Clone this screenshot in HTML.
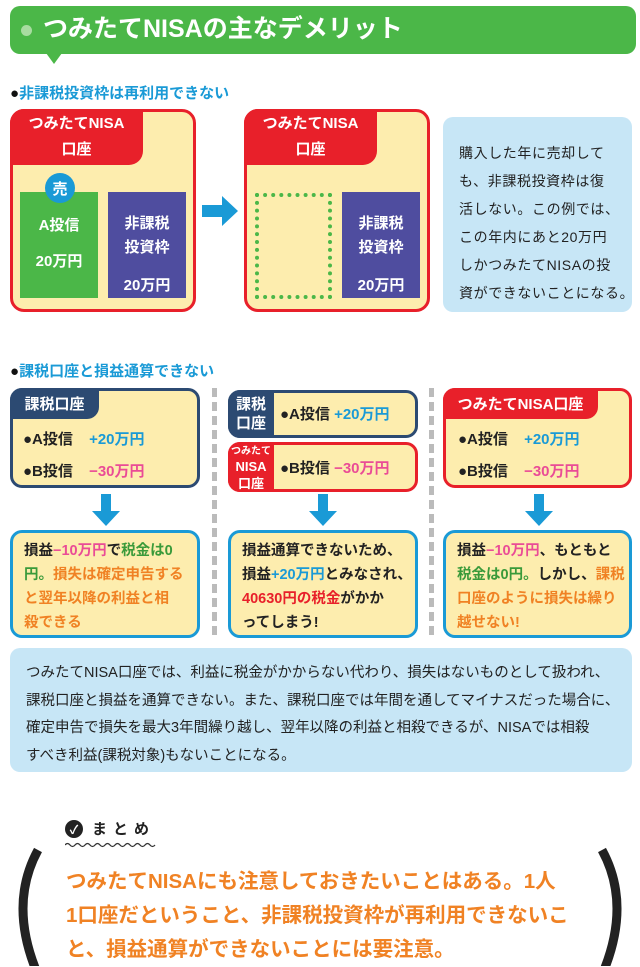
<!DOCTYPE html>
<html><head><meta charset="utf-8"><style>
*{margin:0;padding:0;box-sizing:border-box}
body{width:640px;height:966px;background:#fff;position:relative;overflow:hidden;font-family:"Liberation Sans","Noto Sans CJK JP",sans-serif;color:#222}
.a{position:absolute}
.y{background:#fdedae}
.red{color:#e8202a}.blu{color:#1a9ad6}.pk{color:#ea4c96}.gr{color:#3a9a3a}.or{color:#f08224}
.c{display:flex;align-items:center;justify-content:center;text-align:center}
.b{text-align:center}
.wb{color:#fff;font-weight:bold}
.nw{white-space:nowrap}
.dash{position:absolute;width:5px;top:388px;height:252px;background:repeating-linear-gradient(#bbb 0 9px,transparent 9px 14px)}
</style></head><body>
<div class="a" style="left:10px;top:6px;width:626px;height:48px;background:#4bb748;border-radius:10px"></div>
<div class="a" style="left:46px;top:53px;width:0;height:0;border-left:8px solid transparent;border-right:8px solid transparent;border-top:11px solid #4bb748"></div>
<div class="a" style="left:21px;top:25px;width:11px;height:11px;border-radius:50%;background:#a8dca0"></div>
<div class="a wb nw" style="left:43px;top:12px;font-size:25px;line-height:34px">つみたてNISAの主なデメリット</div>

<div class="a nw" style="left:10px;top:82px;font-size:15px;font-weight:bold"><span style="color:#111">●</span><span class="blu">非課税投資枠は再利用できない</span></div>

<div class="a y" style="left:10px;top:109px;width:186px;height:203px;border:3px solid #e8202a;border-radius:14px"></div>
<div class="a wb b nw" style="left:10px;top:109px;width:133px;height:56px;background:#e8202a;border-radius:14px 0 14px 0;font-size:15px;line-height:26px;padding-top:2px">つみたてNISA<br>口座</div>
<div class="a wb b nw" style="left:20px;top:192px;width:78px;height:106px;background:#4bb748;font-size:15px;line-height:36px;padding-top:16px">A投信<br>20万円</div>
<div class="a c wb" style="left:45px;top:173px;width:30px;height:30px;border-radius:50%;background:#1a9ad6;font-size:15px">売</div>
<div class="a wb b nw" style="left:108px;top:192px;width:78px;height:106px;background:#4f4d9f;font-size:15px;line-height:24px;padding-top:20px">非課税<br>投資枠<br><span style="display:block;margin-top:14px">20万円</span></div>

<svg class="a" style="left:200px;top:193px" width="40" height="36"><path d="M2 12 H22 V3 L38 18 L22 33 V24 H2 Z" fill="#1a9ad6"/></svg>

<div class="a y" style="left:244px;top:109px;width:186px;height:203px;border:3px solid #e8202a;border-radius:14px"></div>
<div class="a wb b nw" style="left:244px;top:109px;width:133px;height:56px;background:#e8202a;border-radius:14px 0 14px 0;font-size:15px;line-height:26px;padding-top:2px">つみたてNISA<br>口座</div>
<div class="a" style="left:255px;top:193px;width:77px;height:106px;border:4px dotted #4bb748"></div>
<div class="a wb b nw" style="left:342px;top:192px;width:78px;height:106px;background:#4f4d9f;font-size:15px;line-height:24px;padding-top:20px">非課税<br>投資枠<br><span style="display:block;margin-top:14px">20万円</span></div>

<div class="a nw" style="left:443px;top:117px;width:189px;height:195px;background:#c7e6f6;border-radius:10px;padding:22px 0 0 16px;font-size:14px;line-height:28px;letter-spacing:0.6px">購入した年に売却して<br>も、非課税投資枠は復<br>活しない。この例では、<br>この年内にあと20万円<br>しかつみたてNISAの投<br>資ができないことになる。</div>

<div class="a nw" style="left:10px;top:360px;font-size:15px;font-weight:bold"><span style="color:#111">●</span><span class="blu">課税口座と損益通算できない</span></div>

<div class="dash" style="left:212px"></div>
<div class="dash" style="left:429px"></div>

<div class="a y" style="left:10px;top:388px;width:190px;height:100px;border:3px solid #2c4a72;border-radius:12px"></div>
<div class="a c wb nw" style="left:10px;top:388px;width:89px;height:31px;background:#2c4a72;border-radius:12px 0 12px 0;font-size:15px">課税口座</div>
<div class="a nw" style="left:23px;top:424px;font-size:15px;line-height:32px;font-weight:bold">●A投信 <span class="blu" style="margin-left:12px">+20万円</span><br>●B投信 <span class="pk" style="margin-left:12px">−30万円</span></div>

<div class="a y" style="left:228px;top:390px;width:190px;height:48px;border:3px solid #2c4a72;border-radius:12px"></div>
<div class="a wb b nw" style="left:228px;top:390px;width:46px;height:48px;background:#2c4a72;border-radius:12px 0 0 12px;font-size:15px;line-height:19px;padding-top:5px">課税<br>口座</div>
<div class="a nw" style="left:280px;top:403px;font-size:15px;font-weight:bold">●A投信 <span class="blu">+20万円</span></div>
<div class="a y" style="left:228px;top:442px;width:190px;height:50px;border:3px solid #e8202a;border-radius:12px"></div>
<div class="a wb b nw" style="left:228px;top:442px;width:46px;height:50px;background:#e8202a;border-radius:12px 0 0 12px;font-size:10px;line-height:15px;padding-top:2px;overflow:hidden">つみたて<br><span style="font-size:13px">NISA</span><br><span style="font-size:13px">口座</span></div>
<div class="a nw" style="left:280px;top:457px;font-size:15px;font-weight:bold">●B投信 <span class="pk">−30万円</span></div>

<div class="a y" style="left:443px;top:388px;width:189px;height:100px;border:3px solid #e8202a;border-radius:12px"></div>
<div class="a c wb nw" style="left:443px;top:388px;width:155px;height:31px;background:#e8202a;border-radius:12px 0 12px 0;font-size:15px">つみたてNISA口座</div>
<div class="a nw" style="left:458px;top:424px;font-size:15px;line-height:32px;font-weight:bold">●A投信 <span class="blu" style="margin-left:12px">+20万円</span><br>●B投信 <span class="pk" style="margin-left:12px">−30万円</span></div>

<svg class="a" style="left:90px;top:494px" width="32" height="34"><path d="M11 0 H21 V17 H30 L16 32 L2 17 H11Z" fill="#1a9ad6"/></svg>
<svg class="a" style="left:307px;top:494px" width="32" height="34"><path d="M11 0 H21 V17 H30 L16 32 L2 17 H11Z" fill="#1a9ad6"/></svg>
<svg class="a" style="left:523px;top:494px" width="32" height="34"><path d="M11 0 H21 V17 H30 L16 32 L2 17 H11Z" fill="#1a9ad6"/></svg>

<div class="a y nw" style="left:10px;top:530px;width:190px;height:108px;border:3px solid #1a9ad6;border-radius:12px;padding:6px 0 0 11px;font-size:14.5px;line-height:24px;font-weight:bold">損益<span class="pk">−10万円</span>で<span class="gr">税金は0<br>円。</span><span class="or">損失は確定申告する<br>と翌年以降の利益と相<br>殺できる</span></div>
<div class="a y nw" style="left:228px;top:530px;width:190px;height:108px;border:3px solid #1a9ad6;border-radius:12px;padding:6px 0 0 11px;font-size:14.5px;line-height:24px;font-weight:bold">損益通算できないため、<br>損益<span class="blu">+20万円</span>とみなされ、<br><span class="red">40630円の税金</span>がかか<br>ってしまう!</div>
<div class="a y nw" style="left:443px;top:530px;width:189px;height:108px;border:3px solid #1a9ad6;border-radius:12px;padding:6px 0 0 11px;font-size:14.5px;line-height:24px;font-weight:bold">損益<span class="pk">−10万円</span>、もともと<br><span class="gr">税金は0円。</span>しかし、<span class="or">課税<br>口座のように損失は繰り<br>越せない!</span></div>

<div class="a nw" style="left:10px;top:648px;width:622px;height:124px;background:#c7e6f6;border-radius:10px;padding:12px 0 0 16px;font-size:14.5px;line-height:27.5px">つみたてNISA口座では、利益に税金がかからない代わり、損失はないものとして扱われ、<br>課税口座と損益を通算できない。また、課税口座では年間を通してマイナスだった場合に、<br>確定申告で損失を最大3年間繰り越し、翌年以降の利益と相殺できるが、NISAでは相殺<br>すべき利益(課税対象)もないことになる。</div>

<div class="a c" style="left:65px;top:820px;width:18px;height:18px;border-radius:50%;background:#222;color:#fff;font-size:12px;font-weight:bold">✓</div>
<div class="a nw" style="left:92px;top:818px;font-size:15px;font-weight:bold;letter-spacing:6px">まとめ</div>
<svg class="a" style="left:65px;top:842px" width="92" height="6"><path d="M0 3 q2.5 -3 5 0 t5 0 t5 0 t5 0 t5 0 t5 0 t5 0 t5 0 t5 0 t5 0 t5 0 t5 0 t5 0 t5 0 t5 0 t5 0 t5 0 t5 0" stroke="#333" fill="none" stroke-width="1.3"/></svg>
<svg class="a" style="left:0;top:845px" width="640" height="121"><path d="M38 5 Q8 60 38 130" stroke="#222" stroke-width="9" fill="none"/><path d="M602 5 Q632 60 602 130" stroke="#222" stroke-width="9" fill="none"/></svg>
<div class="a or nw" style="left:66px;top:865px;font-size:20.5px;line-height:34px;font-weight:bold">つみたてNISAにも注意しておきたいことはある。1人<br>1口座だということ、非課税投資枠が再利用できないこ<br>と、損益通算ができないことには要注意。</div>
</body></html>
